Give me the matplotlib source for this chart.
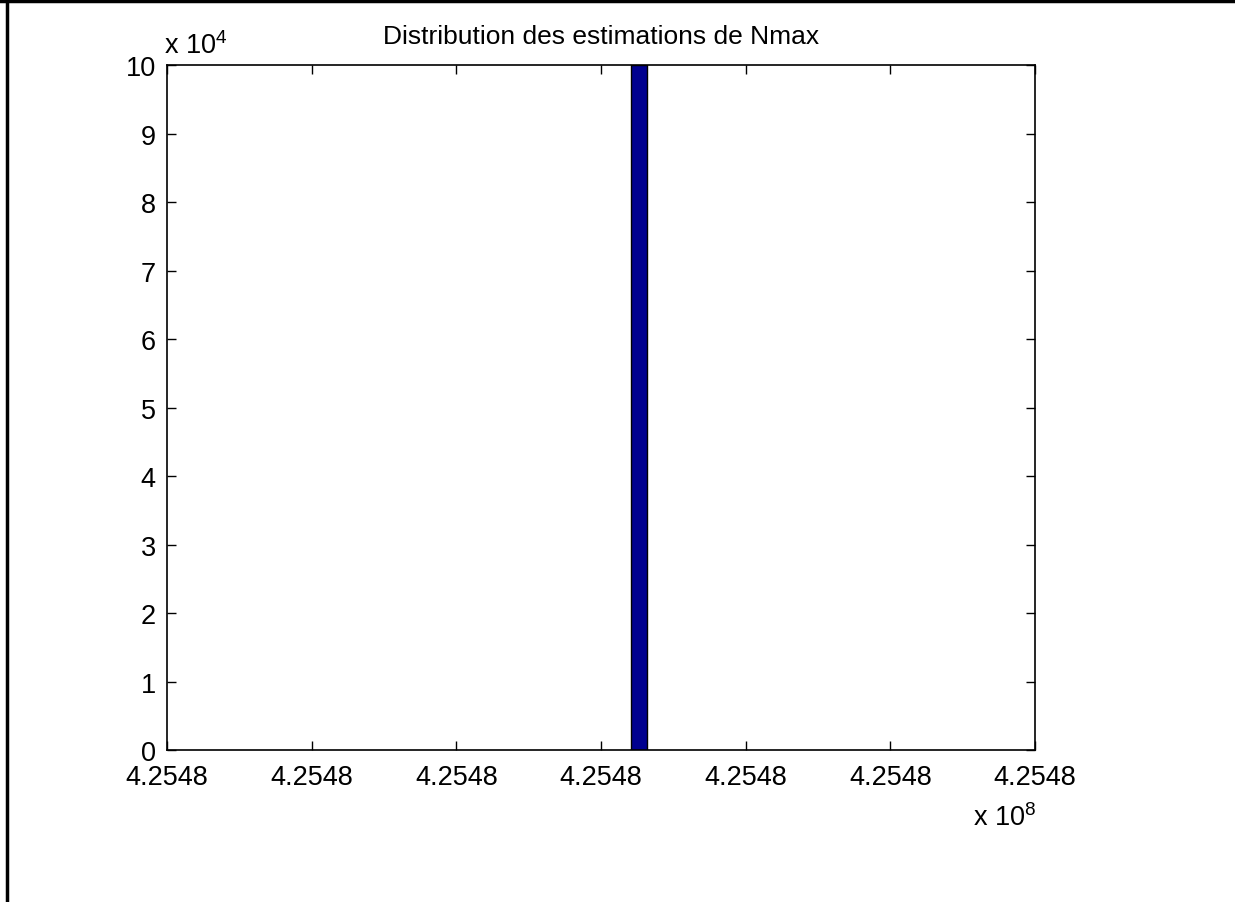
import matplotlib
matplotlib.use("Agg")
import matplotlib.pyplot as plt
from matplotlib.lines import Line2D

plt.rcParams['font.family'] = ['Liberation Sans', 'DejaVu Sans']
plt.rcParams['mathtext.fontset'] = 'custom'
plt.rcParams['mathtext.rm'] = 'Liberation Sans'
plt.rcParams['mathtext.it'] = 'Liberation Sans'

# histogramme des estimations de Nmax (une seule classe visible)
bin_centers = [425480000.13]
bin_counts = [100000]
bin_width = 0.055
xticks = [425479998.5, 425479999.0, 425479999.5, 425480000.0,
          425480000.5, 425480001.0, 425480001.5]
yticks = [0, 10000, 20000, 30000, 40000, 50000, 60000, 70000, 80000, 90000, 100000]

fs = 19.5

fig = plt.figure(figsize=(12.35, 9.03), dpi=100)
ax = fig.add_axes([0.1352, 0.1683, 0.8381 - 0.1352, 0.9269 - 0.1683])

ax.bar(bin_centers, bin_counts, width=bin_width, color='#00008F',
       edgecolor='black', linewidth=1.0, align='center')

ax.set_xlim(xticks[0], xticks[-1])
ax.set_ylim(0, 100000)
ax.set_xticks(xticks)
ax.set_xticklabels(['%.4f' % (t / 1e8) for t in xticks])
ax.set_yticks(yticks)
ax.set_yticklabels(['%d' % (t / 1e4) for t in yticks])
ax.tick_params(axis='both', direction='in', length=6.5, width=1, labelsize=fs,
               top=True, right=True)
ax.tick_params(axis='x', pad=10)
ax.tick_params(axis='y', pad=8)
for s in ax.spines.values():
    s.set_linewidth(1.2)

ax.set_title('Distribution des estimations de Nmax', fontsize=19, pad=16)
ax.text(-0.003, 1.009, 'x 10$^{4}$', transform=ax.transAxes, fontsize=fs,
        ha='left', va='bottom')
fig.text(1036 / 1235, 1 - 832 / 903, 'x 10$^{8}$', fontsize=fs,
         ha='right', va='bottom')

# cadre de la figure (haut et gauche)
fig.add_artist(Line2D([0, 1], [0.9975, 0.9975], color='black', lw=2.5,
                      transform=fig.transFigure))
fig.add_artist(Line2D([0.0057, 0.0057], [0, 1], color='black', lw=2.5,
                      transform=fig.transFigure))

fig.savefig('out.png', dpi=100)
